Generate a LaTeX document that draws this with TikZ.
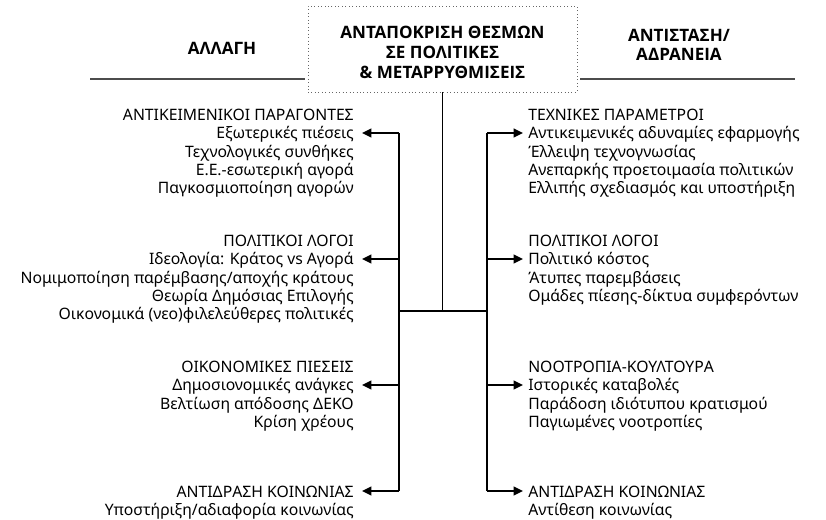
\documentclass[tikz,border=0pt]{standalone}
\usepackage{fontspec}
\setmainfont{Noto Sans}
\newfontfamily\headfont{Open Sans}
\usetikzlibrary{arrows.meta}

\begin{document}
\begin{tikzpicture}[x=0.75pt,y=0.75pt,yscale=-1,xscale=1,
  grp/.style={inner sep=0pt,font=\fontsize{11.8}{13.7}\selectfont},
  head/.style={inner sep=0pt,font=\headfont\bfseries\fontsize{12.8}{14.8}\selectfont,align=center},
  rul/.style={line width=1.2pt,draw=black!70},
  lnk/.style={line width=0.8pt},
  arw/.style={line width=1.6pt,-{Triangle[length=7pt,width=6.5pt]}}]
\useasboundingbox (0,0) rectangle (826,520);

% Title box
\node [draw=black!60,dotted,line width=0.6pt,minimum width=201.75pt,minimum height=64.5pt] (title) at (442.5,49) {};
\node [head] (titletext) at (442.5,52.5) {ΑΝΤΑΠΟΚΡΙΣΗ ΘΕΣΜΩΝ\\ΣΕ ΠΟΛΙΤΙΚΕΣ\\\& ΜΕΤΑΡΡΥΘΜΙΣΕΙΣ};
% Column headings
\node [head] (change) at (222,48) {ΑΛΛΑΓΗ};
\node [head] (resist) at (679,45) {ΑΝΤΙΣΤΑΣΗ/\\ΑΔΡΑΝΕΙΑ};

%Straight Lines: rules under headings
\coordinate (ruleL1) at (90,79);
\coordinate (ruleL2) at (305,79);
\coordinate (ruleR1) at (580,79);
\coordinate (ruleR2) at (795,79);
\draw [rul] (ruleL1) -- (ruleL2);
\draw [rul] (ruleR1) -- (ruleR2);

%Straight Lines: trunk and split
\coordinate (junc) at (442.5,311);
\coordinate (splitL) at (399,311);
\coordinate (splitR) at (487,311);
\draw [lnk] (title.south) -- (junc);
\draw [lnk] (splitL) -- (splitR);

%Straight Lines: spines
\coordinate (spL1) at (399,133);
\coordinate (spL2) at (399,259);
\coordinate (spL3) at (399,385);
\coordinate (spL4) at (399,491);
\coordinate (spR1) at (487,133);
\coordinate (spR2) at (487,259);
\coordinate (spR3) at (487,385);
\coordinate (spR4) at (487,491);
\draw [lnk] (spL1) -- (spL4);
\draw [lnk] (spR1) -- (spR4);

%Arrows
\coordinate (tipL1) at (362,133);
\coordinate (tipL2) at (362,259);
\coordinate (tipL3) at (362,385);
\coordinate (tipL4) at (362,491);
\coordinate (tipR1) at (523,133);
\coordinate (tipR2) at (523,259);
\coordinate (tipR3) at (523,385);
\coordinate (tipR4) at (523,491);
\draw [arw] (spL1) -- (tipL1);
\draw [arw] (spL2) -- (tipL2);
\draw [arw] (spL3) -- (tipL3);
\draw [arw] (spL4) -- (tipL4);
\draw [arw] (spR1) -- (tipR1);
\draw [arw] (spR2) -- (tipR2);
\draw [arw] (spR3) -- (tipR3);
\draw [arw] (spR4) -- (tipR4);

% Text Node
\node [grp,anchor=north east,align=right] (objective) at (354,109) {ΑΝΤΙΚΕΙΜΕΝΙΚΟΙ ΠΑΡΑΓΟΝΤΕΣ\\Εξωτερικές πιέσεις\\Τεχνολογικές συνθήκες\\Ε.Ε.-εσωτερική αγορά\\Παγκοσμιοποίηση αγορών};
% Text Node
\node [grp,anchor=north east,align=right] (politicsL) at (354,235) {ΠΟΛΙΤΙΚΟΙ ΛΟΓΟΙ\\Ιδεολογία: Κράτος vs Αγορά\\Νομιμοποίηση παρέμβασης/αποχής κράτους\\Θεωρία Δημόσιας Επιλογής\\Οικονομικά (νεο)φιλελεύθερες πολιτικές};
% Text Node
\node [grp,anchor=north east,align=right] (economy) at (354,361) {ΟΙΚΟΝΟΜΙΚΕΣ ΠΙΕΣΕΙΣ\\Δημοσιονομικές ανάγκες\\Βελτίωση απόδοσης ΔΕΚΟ\\Κρίση χρέους};
% Text Node
\node [grp,anchor=north east,align=right] (societyL) at (354,485.5) {ΑΝΤΙΔΡΑΣΗ ΚΟΙΝΩΝΙΑΣ\\Υποστήριξη/αδιαφορία κοινωνίας};
% Text Node
\node [grp,anchor=north west,align=left] (technical) at (528,109) {ΤΕΧΝΙΚΕΣ ΠΑΡΑΜΕΤΡΟΙ\\Αντικειμενικές αδυναμίες εφαρμογής\\Έλλειψη τεχνογνωσίας\\Ανεπαρκής προετοιμασία πολιτικών\\Ελλιπής σχεδιασμός και υποστήριξη};
% Text Node
\node [grp,anchor=north west,align=left] (politicsR) at (528,235) {ΠΟΛΙΤΙΚΟΙ ΛΟΓΟΙ\\Πολιτικό κόστος\\Άτυπες παρεμβάσεις\\Ομάδες πίεσης-δίκτυα συμφερόντων};
% Text Node
\node [grp,anchor=north west,align=left] (culture) at (528,361) {ΝΟΟΤΡΟΠΙΑ-ΚΟΥΛΤΟΥΡΑ\\Ιστορικές καταβολές\\Παράδοση ιδιότυπου κρατισμού\\Παγιωμένες νοοτροπίες};
% Text Node
\node [grp,anchor=north west,align=left] (societyR) at (528,485.5) {ΑΝΤΙΔΡΑΣΗ ΚΟΙΝΩΝΙΑΣ\\Αντίθεση κοινωνίας};
\end{tikzpicture}
\end{document}
